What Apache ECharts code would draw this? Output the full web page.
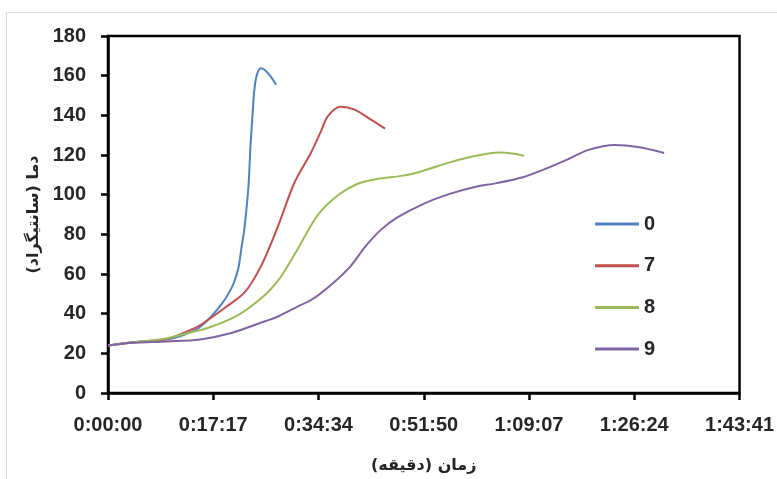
<!DOCTYPE html>
<html>
<head>
<meta charset="utf-8">
<script src="https://cdn.jsdelivr.net/npm/echarts@6/dist/echarts.min.js"></script>
<style>html,body{margin:0;padding:0;background:#fff}#c{width:777px;height:479px}</style>
</head>
<body>
<div id="c"></div>
<script>
// time in minutes, temperature in °C
const seriesNames = ['0', '7', '8', '9'];
const t0 = [0, 3.6, 9.6, 12.2, 15.0, 18.2, 20.3, 21.4, 21.9, 22.4, 22.8, 23.1, 23.4, 23.7, 24.0, 24.4, 25.1, 25.7, 26.6, 27.6];
const v0 = [24, 25.5, 27, 29, 33, 43, 53, 63, 73, 83, 95, 106, 125, 139, 152, 160, 163.8, 163, 160, 155.5];
const t7 = [0, 4, 9.6, 14.4, 16.0, 19.2, 22.5, 25.2, 27.9, 30.6, 33.3, 34.9, 36.1, 38.2, 40.4, 43.1, 45.5];
const v7 = [24, 25.5, 27.2, 33, 36, 43, 51, 64.5, 84, 106, 121, 131.5, 139.6, 144.3, 143, 138, 133.3];
const t8 = [0, 4, 9.6, 12.2, 16.6, 21.5, 25.8, 28.0, 29.1, 31.2, 34.4, 37.7, 40.9, 44.2, 48.5, 51.8, 56.1, 60.4, 64.2, 66.4, 68.3];
const v8 = [24, 25.5, 27.5, 29.5, 33, 39.5, 49.5, 57, 62, 72.9, 89.6, 99.6, 105.4, 107.9, 109.6, 112.1, 116.3, 119.6, 121.3, 120.8, 119.6];
const t9 = [0, 4, 9.6, 15.1, 20.4, 25.8, 28.0, 31.2, 33.4, 36.4, 39.7, 42.3, 44.7, 47.5, 51.8, 56.1, 60.4, 63.6, 68.1, 71.8, 75.6, 78.9, 83.2, 87.0, 91.3];
const v9 = [24, 25.3, 26, 27, 30.4, 36.2, 38.7, 43.7, 47, 54, 63.5, 74, 82, 88.5, 95.4, 100.4, 104, 105.7, 108.8, 113, 118, 122.6, 125, 124, 121];
const xTickStep = 17.28; // minutes (0:17:17)
const xMax = 103.68;     // 1:43:41
const yTicks = [0, 20, 40, 60, 80, 100, 120, 140, 160, 180];
const colors = ['#4F81BD', '#C0504D', '#9BBB59', '#8064A2'];

const times = [t0, t7, t8, t9];
const vals = [v0, v7, v8, v9];

function fmt(m) {
  const s = Math.round(m * 60);
  const h = Math.floor(s / 3600);
  const mm = Math.floor((s % 3600) / 60);
  const ss = s % 60;
  return h + ':' + String(mm).padStart(2, '0') + ':' + String(ss).padStart(2, '0');
}

const chart = echarts.init(document.getElementById('c'), null, {renderer: 'canvas'});
const labelFont = {fontFamily: 'Liberation Sans, Arial, sans-serif', fontWeight: 'bold', fontSize: 20, color: '#262626'};
chart.setOption({
  backgroundColor: '#fff',
  animation: false,
  graphic: [{
    type: 'rect', shape: {x: 6.5, y: 12.5, width: 800, height: 500},
    style: {fill: 'none', stroke: '#d9d9d9', lineWidth: 1}, z: -1
  }],
  grid: {left: 108, top: 36, right: 31, bottom: 83, show: true, borderColor: '#000', borderWidth: 2.5, backgroundColor: 'transparent'},
  legend: {
    orient: 'vertical', left: 590, top: 209, itemWidth: 44, itemHeight: 3, itemGap: 21.7,
    icon: 'rect',
    data: seriesNames,
    textStyle: Object.assign({}, labelFont, {lineHeight: 20, padding: [0, 0, 0, 0]})
  },
  xAxis: {
    type: 'value', min: 0, max: xMax, interval: xTickStep,
    name: 'زمان (دقیقه)', nameLocation: 'middle', nameGap: 65,
    nameTextStyle: {fontFamily: 'DejaVu Sans', fontWeight: 'bold', fontSize: 16, color: '#262626'},
    axisLine: {lineStyle: {color: '#000', width: 2.5}},
    axisTick: {show: true, inside: false, length: 7, lineStyle: {color: '#000', width: 2.5}},
    axisLabel: Object.assign({}, labelFont, {margin: 22, formatter: fmt, showMaxLabel: true, showMinLabel: true}),
    splitLine: {show: false}
  },
  yAxis: {
    type: 'value', min: yTicks[0], max: yTicks[yTicks.length - 1], interval: yTicks[1] - yTicks[0],
    name: 'دما (سانتیگراد)', nameLocation: 'middle', nameGap: 66, nameRotate: 90,
    nameTextStyle: {fontFamily: 'DejaVu Sans', fontWeight: 'bold', fontSize: 16, color: '#262626'},
    axisLine: {show: true, lineStyle: {color: '#000', width: 2.5}},
    axisTick: {show: true, inside: false, length: 7, lineStyle: {color: '#000', width: 2.5}},
    axisLabel: Object.assign({}, labelFont, {margin: 22}),
    splitLine: {show: false}
  },
  series: seriesNames.map((n, i) => ({
    name: n, type: 'line', smooth: 0.3, symbol: 'none',
    lineStyle: {color: colors[i], width: 2},
    itemStyle: {color: colors[i]},
    data: times[i].map((t, k) => [t, vals[i][k]])
  }))
});
</script>
</body>
</html>
